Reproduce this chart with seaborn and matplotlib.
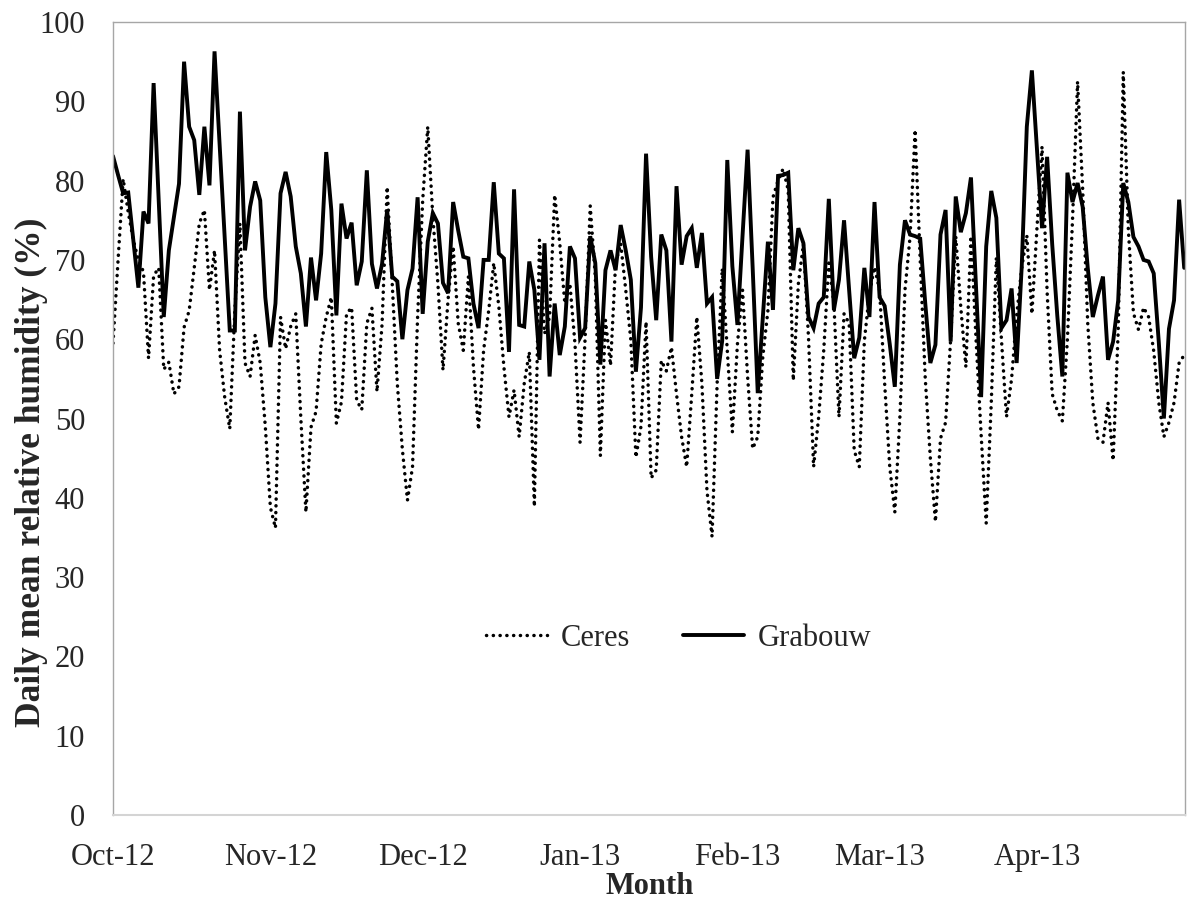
import numpy as np
import pandas as pd
import matplotlib
matplotlib.use("Agg")
import matplotlib.pyplot as plt
import matplotlib.dates as mdates
import seaborn as sns

# Daily dates, 1 Oct 2012 - 30 Apr 2013
dates = pd.date_range("2012-10-01", "2013-04-30", freq="D")

# Daily mean relative humidity (%) at Ceres
ceres = [
    59.5, 70.0, 80.2, 76.0, 72.5, 70.0, 68.5, 57.6, 68.0, 69.0,
    56.2, 57.1, 53.1, 54.0, 61.5, 63.6, 69.0, 74.6, 76.3, 66.2,
    71.2, 58.6, 52.7, 48.7, 63.6, 74.6, 57.0, 55.3, 60.5, 57.0,
    49.0, 38.8, 36.2, 62.8, 58.8, 61.6, 63.2, 50.0, 38.2, 48.9,
    50.9, 59.4, 62.8, 65.3, 49.4, 52.1, 63.2, 64.0, 52.3, 51.1,
    62.0, 63.9, 53.4, 61.9, 79.2, 67.0, 54.4, 46.1, 39.7, 43.9,
    62.8, 77.5, 86.8, 75.4, 67.0, 56.1, 65.0, 71.7, 62.0, 58.6,
    67.9, 56.5, 48.6, 58.6, 63.6, 69.6, 64.1, 56.5, 50.2, 53.6,
    47.7, 54.4, 58.4, 38.9, 72.5, 60.7, 62.8, 78.2, 72.1, 64.5,
    67.0, 59.4, 47.0, 60.2, 76.8, 67.9, 45.3, 62.4, 56.7, 69.6,
    72.1, 66.2, 59.9, 45.1, 49.0, 62.2, 42.5, 43.5, 57.3, 56.0,
    59.0, 53.1, 47.7, 43.9, 53.1, 62.8, 54.4, 40.9, 35.1, 54.4,
    68.9, 58.6, 48.3, 59.4, 66.2, 55.3, 46.2, 47.7, 57.8, 63.6,
    77.9, 80.0, 81.5, 78.8, 54.8, 67.0, 72.0, 60.2, 43.9, 50.2,
    58.6, 69.6, 64.5, 50.2, 63.2, 62.0, 46.0, 43.9, 59.8, 65.8,
    69.1, 66.2, 54.4, 43.9, 38.2, 50.2, 66.2, 72.9, 86.4, 70.0,
    55.0, 45.0, 37.0, 47.5, 49.5, 60.0, 73.0, 64.0, 56.5, 73.0,
    60.0, 48.0, 36.8, 52.0, 70.3, 60.0, 50.2, 55.0, 63.0, 69.0,
    73.1, 63.2, 74.0, 84.3, 66.0, 53.1, 51.0, 49.7, 60.0, 75.0,
    92.5, 79.0, 62.0, 52.0, 47.5, 47.0, 52.0, 44.7, 61.0, 93.7,
    73.8, 63.3, 61.2, 64.0, 62.8, 58.5, 52.0, 47.7, 49.5, 52.0,
    57.0, 58.0,
]

# Daily mean relative humidity (%) at Grabouw
grabouw = [
    83.1, 80.7, 78.4, 78.5, 72.5, 66.5, 76.1, 74.6, 92.3, 77.5,
    62.8, 71.2, 75.4, 79.6, 95.0, 86.8, 85.1, 78.2, 86.8, 79.4,
    96.3, 84.5, 72.8, 61.1, 61.1, 88.7, 71.2, 76.7, 79.9, 77.5,
    65.3, 59.0, 64.5, 78.4, 81.1, 78.0, 71.7, 68.3, 61.6, 70.3,
    64.9, 70.8, 83.6, 76.3, 63.0, 77.1, 72.7, 74.7, 66.8, 69.8,
    81.3, 69.5, 66.4, 69.5, 76.3, 67.9, 67.3, 60.0, 66.2, 68.9,
    77.9, 63.2, 72.3, 75.9, 74.6, 67.1, 65.8, 77.3, 73.7, 70.4,
    70.2, 64.5, 61.4, 70.0, 70.0, 79.8, 70.8, 70.2, 58.4, 78.9,
    61.8, 61.6, 69.8, 66.2, 57.4, 72.1, 55.3, 64.5, 58.0, 61.6,
    71.7, 70.2, 60.2, 61.4, 73.0, 69.6, 56.8, 68.7, 71.2, 68.7,
    74.4, 71.2, 67.5, 55.9, 64.0, 83.4, 70.4, 62.4, 73.2, 71.2,
    59.7, 79.3, 69.4, 73.0, 74.0, 69.0, 73.4, 64.5, 65.3, 55.0,
    59.8, 82.6, 69.2, 61.8, 73.0, 83.9, 69.0, 53.2, 62.8, 72.3,
    63.7, 80.6, 80.7, 81.0, 68.7, 74.0, 72.1, 62.8, 61.4, 64.5,
    65.3, 77.7, 63.7, 67.5, 75.0, 66.2, 57.6, 60.2, 69.0, 62.8,
    77.3, 65.3, 64.2, 59.4, 54.0, 69.4, 75.0, 73.2, 73.0, 72.7,
    64.5, 57.0, 59.3, 73.2, 76.3, 59.7, 78.0, 73.5, 75.9, 80.4,
    66.6, 52.7, 71.7, 78.7, 75.3, 61.4, 62.4, 66.4, 57.0, 69.2,
    86.8, 93.9, 83.9, 74.0, 83.0, 72.0, 63.0, 55.3, 81.0, 77.3,
    79.7, 76.7, 69.0, 62.8, 65.5, 67.9, 57.4, 59.7, 64.9, 79.7,
    77.3, 72.9, 71.7, 70.0, 69.8, 68.3, 59.6, 50.0, 61.3, 64.9,
    77.6, 69.0,
]

stations = ["Ceres", "Grabouw"]

df = pd.DataFrame({
    "date": np.concatenate([dates, dates]),
    "rh": np.concatenate([ceres, grabouw]),
    "station": np.repeat(stations, len(dates)),
})

sns.set_style("white")
plt.rcParams["font.family"] = ["Liberation Serif", "DejaVu Serif"]
plt.rcParams["font.size"] = 22

fig = plt.figure(figsize=(11.87, 9.06), dpi=100)
ax = fig.add_axes([0.0952, 0.1004, 0.9035, 0.8753])

sns.lineplot(
    data=df, x="date", y="rh", hue="station", style="station",
    palette={"Ceres": "black", "Grabouw": "black"},
    dashes={"Ceres": (0.05, 1.9), "Grabouw": ""},
    linewidth=2.8, ax=ax, legend=True,
)
for line in ax.lines:
    line.set_dash_capstyle("round")
    line.set_solid_joinstyle("miter")
    if line.get_linestyle() != "-":
        line.set_linewidth(2.5)

ax.set_ylim(0, 100)
ax.set_yticks(range(0, 101, 10))
ax.set_xlim(dates[0], dates[-1] + pd.Timedelta(hours=6))
ax.xaxis.set_major_locator(mdates.MonthLocator())
ax.xaxis.set_major_formatter(mdates.DateFormatter("%b-%y"))

ax.tick_params(axis="y", length=0, pad=20, labelsize=22)
ax.tick_params(axis="x", length=7, width=1.2, color="#D4D4D4",
               direction="out", pad=13, labelsize=22)

for side in ["left", "top", "right"]:
    ax.spines[side].set_color("#A6A6A6")
    ax.spines[side].set_linewidth(1.0)
ax.spines["bottom"].set_color("#D4D4D4")
ax.spines["bottom"].set_linewidth(1.5)

ax.set_xlabel("Month", fontweight="bold", fontsize=22)
ax.set_ylabel("Daily mean relative humidity (%)", fontweight="bold",
              fontsize=25.5)
ax.yaxis.set_label_coords(-0.0606, 0.432)
ax.xaxis.set_label_coords(0.5, -0.072)

handles, labels = ax.get_legend_handles_labels()
for h in handles:
    h.set_dash_capstyle("round")
ax.legend(handles, labels, loc="center", bbox_to_anchor=(0.5275, 0.223),
          ncol=2, frameon=False, fontsize=22, handlelength=2.0,
          handletextpad=0.45, columnspacing=1.75)

fig.savefig("out.png", dpi=100)
